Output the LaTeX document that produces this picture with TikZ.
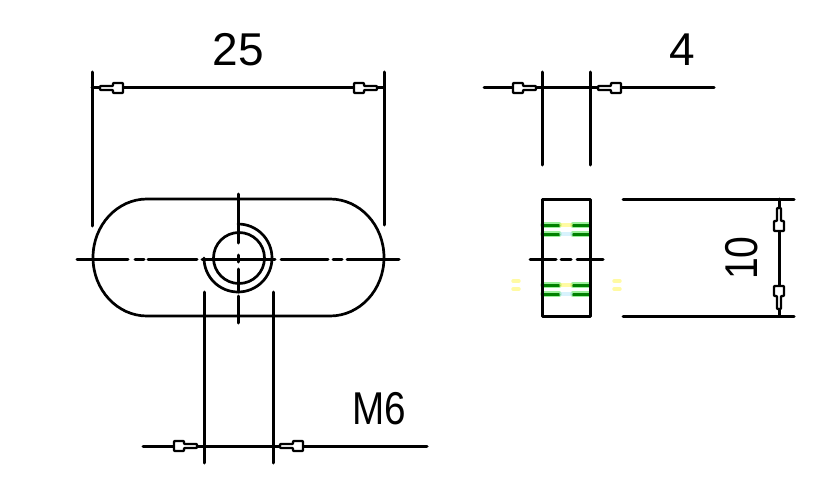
\documentclass[tikz,border=0pt]{standalone}
\usepackage{fontspec}
\setmainfont{Liberation Sans}
\tikzset{
  x=1pt,y=-1pt,
  ink/.style={draw=black,line width=3pt,line cap=round,line join=round},
  outline/.style={ink,line width=2.7pt},
  gline/.style={draw=green!50!black,line width=3pt,line cap=round},
  ghalo/.style={draw=green!85!black,opacity=.4,line width=5.5pt,line cap=round},
  faint/.style={line width=3.4pt,line cap=round,opacity=.6},
  lbl/.style={inner sep=0pt,font=\fontsize{46}{46}\selectfont},
  tick/.pic={
    \draw[ink,line width=2.4pt,fill=white,rounded corners=.8pt,x=1pt,y=1pt]
      (0,-2) -- (13,-2) -- (13,-5) -- (23,-5) -- (23,5) -- (13,5) -- (13,2) -- (0,2) -- cycle;
  }
}
\begin{document}
\begin{tikzpicture}
\useasboundingbox (0,0) rectangle (840,500);
\fill[white] (0,0) rectangle (840,500);
% --- front view ---
\draw[outline] (147,199) -- (330,199) arc[start angle=-90,end angle=0,x radius=54,y radius=58.5]
  arc[start angle=0,end angle=90,x radius=54,y radius=58.5] -- (147,316)
  arc[start angle=90,end angle=180,x radius=54,y radius=58.5]
  arc[start angle=180,end angle=270,x radius=54,y radius=58.5] -- cycle;
\draw[outline] (239,258) circle[radius=25.5];
\draw[outline] (238,224) arc[start angle=-90,end angle=180,radius=34];
% centre lines
\draw[ink] (77,259) -- (128,259) (135,259) -- (144,259) (148,259) -- (197,259)
  (202,259) -- (275,259) (281,259) -- (328,259) (333,259) -- (342,259) (347,259) -- (399,259);
\draw[ink] (238,194) -- (238,243) (238,255) -- (238,262) (238,269) -- (238,292) (238,296) -- (238,323);
% width 25
\draw[ink] (92,72) -- (92,226);
\draw[ink] (384,72) -- (384,225);
\draw[ink] (92,88) -- (384,88);
\pic[rotate=0] at (100,88) {tick};
\pic[rotate=180] at (377,88) {tick};
\node[lbl] (n25) at (238.5,49.5) {25};
% M6
\draw[ink] (204,292) -- (204,463);
\draw[ink] (273,292) -- (273,463);
\draw[ink] (143,446) -- (427,446);
\pic[rotate=180] at (197,446) {tick};
\pic[rotate=0] at (280,446) {tick};
\node[lbl,xscale=.84] (nm6) at (379,408.5) {M6};
% --- side view ---
\foreach \y in {225,234,285,294}{
  \draw[ghalo] (543,\y) -- (559,\y) (573,\y) -- (589,\y);
  \draw[gline] (543,\y) -- (559,\y) (573,\y) -- (589,\y);
}
\draw[faint,yellow!60] (561,225) -- (571,225) (561,285) -- (571,285) (513,281) -- (519,281) (614,281) -- (620,281) (513,289) -- (519,289) (614,289) -- (620,289);
\draw[faint,cyan!25] (561,234) -- (571,234) (561,294) -- (571,294);
\draw[ink] (542,199) rectangle (590,316);
\draw[ink] (530,259) -- (556,259) (561,259) -- (571,259) (577,259) -- (603,259);
% width 4
\draw[ink] (542,72) -- (542,165);
\draw[ink] (590,72) -- (590,165);
\draw[ink] (484,88) -- (714,88);
\pic[rotate=180] at (536,88) {tick};
\pic[rotate=0] at (598,88) {tick};
\node[lbl] (n4) at (682,49.5) {4};
% height 10
\draw[ink] (623,199) -- (794,199);
\draw[ink] (623,316) -- (794,316);
\draw[ink] (779,199) -- (779,316);
\pic[rotate=-90] at (779,208) {tick};
\pic[rotate=90] at (779,309) {tick};
\node[lbl,rotate=90,xscale=.85] (n10) at (742,258) {10};
\end{tikzpicture}
\end{document}
